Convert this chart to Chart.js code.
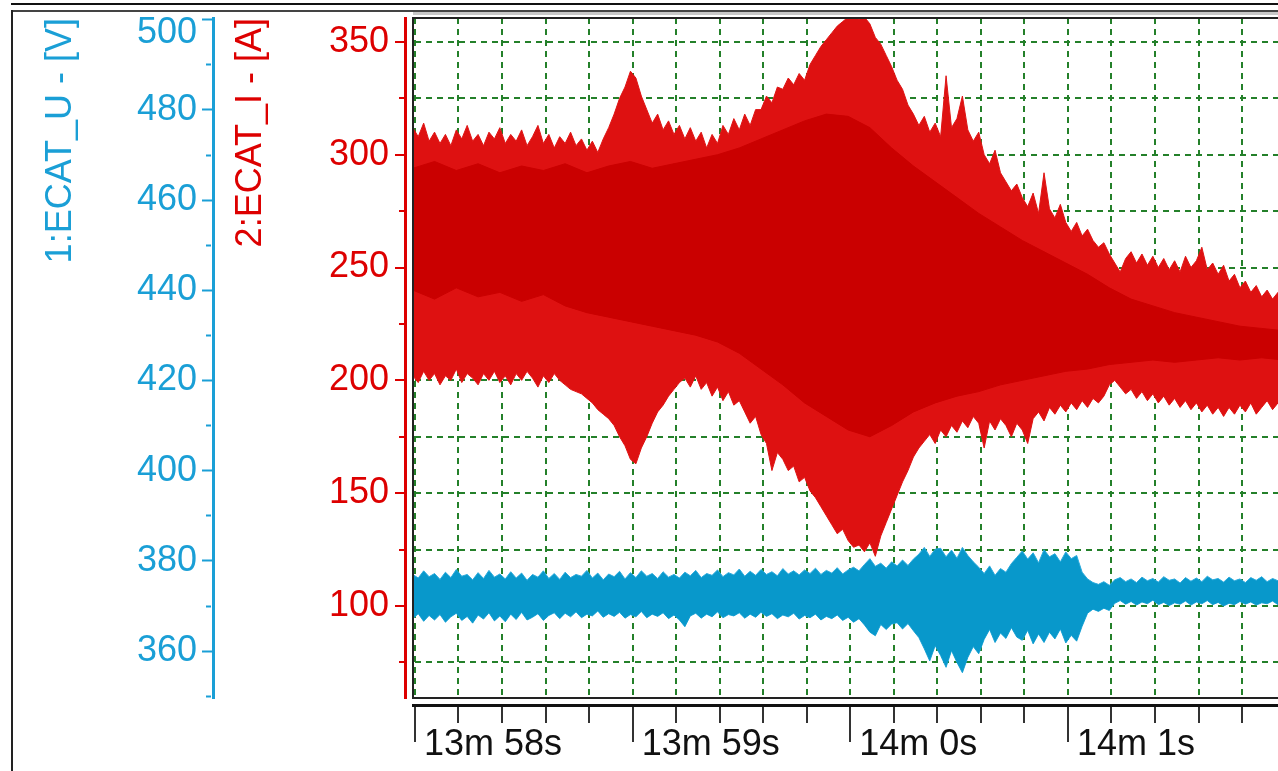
<!DOCTYPE html>
<html>
<head>
<meta charset="utf-8">
<title>ECAT U / I</title>
<script src="https://cdn.jsdelivr.net/npm/chart.js@4.4.1/dist/chart.umd.min.js"></script>
<style>
  html, body { margin: 0; padding: 0; background: #fff; overflow: hidden; }
  #wrap { width: 1278px; height: 771px; overflow: hidden; position: relative; }
  canvas { display: block; }
</style>
</head>
<body>
<div id="wrap"><canvas id="scope" width="1300" height="771"></canvas></div>
<script>
// ---- sampling grid (seconds) ----
const SAMPLE_START = 837.99;   // first envelope sample
const SAMPLE_STEP = 0.025;     // envelope bin width
const CORE_STEP = 0.1;         // bin width of the dense-core envelope

// ---- time axis ticks ----
const timeTickSeconds = [838, 839, 840, 841, 842];
const timeTickLabels = ['13m 58s', '13m 59s', '14m 0s', '14m 1s', '14m 2s'];

// ---- 2:ECAT_I [A] : max / min envelope per bin ----
const currentMax = [
  312, 308, 314, 306, 310, 305, 309, 304, 311, 307,
  313, 306, 309, 304, 310, 307, 312, 305, 309, 306,
  311, 304, 308, 313, 305, 309, 303, 308, 305, 310,
  304, 307, 302, 306, 301, 307, 312, 318, 325, 330,
  337, 334, 326, 320, 314, 318, 311, 315, 309, 313,
  307, 312, 306, 310, 303, 309, 305, 313, 309, 316,
  311, 318, 313, 320, 320, 326, 323, 330, 329, 334,
  331, 336, 333, 340, 344, 348, 351, 354, 357, 359,
  361, 361, 360, 361, 358, 352, 349, 344, 339, 333,
  329, 322, 318, 313, 317, 310, 314, 308, 335, 312,
  316, 326, 311, 306, 310, 300, 296, 302, 292, 288,
  284, 287, 281, 277, 283, 274, 292, 276, 272, 278,
  270, 266, 270, 264, 267, 262, 259, 261, 256, 252,
  248, 254, 257, 252, 256, 251, 255, 250, 254, 249,
  253, 248, 255, 250, 253, 259, 249, 252, 247, 251,
  244, 247, 241, 244, 239, 242, 237, 240, 236, 239,
  236
];
const currentMin = [
  202, 199, 204, 200, 203, 198, 202, 200, 205, 199,
  203, 201, 198, 203, 200, 204, 199, 202, 198, 203,
  200, 204, 201, 197, 202, 199, 203, 200, 198, 196,
  195, 194, 192, 190, 187, 185, 183, 180, 175, 171,
  165, 163, 170, 175, 181, 186, 189, 193, 196, 199,
  201, 197, 202, 196, 199, 193, 197, 191, 195, 189,
  191, 186, 181, 184, 176, 172, 160, 168, 165, 160,
  162, 155, 157, 151, 148, 144, 140, 136, 132, 134,
  129, 126, 127, 124, 128, 122, 131, 137, 143, 149,
  155, 160, 166, 170, 173, 176, 172, 178, 175, 180,
  177, 182, 179, 184, 181, 170, 182, 178, 183, 180,
  175, 181, 178, 172, 183, 186, 182, 188, 185, 189,
  186, 190, 187, 191, 188, 192, 190, 193, 198, 200,
  197, 194, 196, 192, 195, 191, 194, 190, 193, 189,
  192, 188, 191, 187, 190, 186, 189, 185, 188, 184,
  188, 185, 189, 186, 190, 185, 188, 191, 187, 190,
  188
];
// dense core of the current trace (where most samples fall)
const currentCoreMax = [
  294, 297, 293, 296, 292, 295, 293, 296, 292, 295,
  297, 294, 296, 298, 300, 303, 307, 311, 315, 318,
  317, 312, 303, 295, 288, 281, 274, 268, 262, 257,
  252, 247, 241, 236, 233, 230, 228, 226, 224, 223,
  222
];
const currentCoreMin = [
  240, 236, 241, 237, 239, 235, 238, 233, 230, 228,
  226, 224, 222, 220, 217, 212, 205, 198, 190, 184,
  178, 175, 180, 186, 190, 193, 195, 198, 200, 202,
  204, 205, 207, 208, 209, 208, 209, 210, 209, 210,
  209
];

// ---- 1:ECAT_U [V] : max / min envelope per bin ----
const voltageMax = [
  377.0, 376.2, 377.8, 376.5, 377.2, 375.9, 377.5, 376.3, 378.1, 376.6,
  377.0, 375.8, 377.4, 376.1, 377.9, 376.4, 377.1, 376.0, 377.6, 376.2,
  377.3, 375.7, 377.0, 376.4, 377.8, 376.1, 377.2, 375.9, 377.5, 376.3,
  377.0, 376.6, 377.9, 376.2, 377.3, 375.8, 377.1, 376.5, 377.7, 376.0,
  377.4, 376.3, 377.8, 376.6, 377.2, 376.1, 377.6, 376.4, 377.0, 376.2,
  377.5, 376.7, 377.9, 376.3, 377.2, 376.8, 378.0, 376.5, 377.4, 376.9,
  378.2, 376.6, 377.7, 376.8, 378.1, 377.0, 377.6, 376.7, 378.3, 377.1,
  377.8, 376.9, 378.0, 377.2, 378.4, 377.0, 377.9, 377.3, 378.5, 377.1,
  378.0, 378.6, 377.8, 379.2, 380.5, 378.8, 379.5, 378.4, 379.8, 378.9,
  380.2, 379.0, 380.4, 381.5, 383.0, 381.0, 382.6, 382.8, 380.9, 382.4,
  380.6, 383.0, 381.2, 379.8, 378.6, 377.2, 378.9, 376.8, 378.3, 377.5,
  379.4, 380.8, 382.2, 380.4, 381.8, 379.6, 382.5, 380.9, 381.6, 379.8,
  382.0, 380.5, 381.2, 377.5, 376.0, 375.2, 374.8, 375.4, 374.6, 375.8,
  376.3, 375.4, 376.0, 375.2, 376.4, 375.6, 376.1, 375.3, 376.5, 375.7,
  376.0, 375.1, 376.3, 375.5, 376.2, 375.4, 376.6, 375.8, 376.1, 375.3,
  376.4, 375.6, 376.0, 375.2, 376.3, 375.7, 376.5, 375.4, 376.1, 375.6,
  376.0
];
const voltageMin = [
  367.2, 368.3, 366.6, 367.9, 366.9, 368.1, 366.4, 367.6, 368.4, 366.8,
  367.7, 366.2, 368.0, 367.1, 368.5, 366.7, 367.8, 366.5, 368.2, 367.0,
  368.6, 366.9, 367.5, 368.3, 366.8, 367.9, 368.5, 367.2, 368.4, 367.6,
  368.7, 367.4, 368.2, 367.8, 368.9, 367.5, 368.3, 367.7, 368.6, 367.3,
  368.1, 367.6, 368.8, 367.4, 368.2, 367.7, 368.5, 367.2, 368.0, 366.9,
  365.4, 367.8, 368.4, 367.3, 368.2, 367.6, 368.7, 367.4, 368.1, 367.8,
  368.5, 367.3, 368.2, 367.5, 368.6, 367.7, 368.3, 367.2, 368.0, 367.6,
  368.4, 367.1, 367.9, 367.4, 368.2, 366.9, 367.7, 367.2, 368.0, 366.8,
  367.5, 366.4, 367.2, 365.8, 364.2, 363.4, 365.9, 364.8, 366.0, 366.3,
  364.9, 366.1, 364.5, 363.0, 360.5, 357.8, 361.2, 359.0, 356.4, 360.1,
  357.5, 355.2, 358.6, 361.0, 359.4, 362.6, 364.8, 361.9, 364.0, 362.8,
  365.2, 363.1, 362.4, 364.6, 361.6, 363.8, 361.9, 364.2, 362.7, 364.9,
  361.8, 363.5, 362.2, 365.5, 368.4, 369.3, 368.8, 369.5, 369.0, 370.6,
  371.2, 370.4, 371.0, 370.2, 370.9, 370.5, 371.3, 370.3, 370.8, 370.1,
  370.7, 370.4, 371.1, 370.2, 370.9, 370.5, 371.2, 370.3, 370.8, 370.0,
  370.6, 370.3, 371.0, 370.4, 370.9, 370.2, 370.7, 370.5, 371.1, 370.3,
  370.8
];

// ---- look ----
const FONT = "'Liberation Sans', Arial, sans-serif";
const U_COLOR = '#1a9fd6';
const I_COLOR = '#dd0000';
const GRID_COLOR = '#24802a';
const GRID_DASH = [6, 5];
const U_TOP_TICK = 500;   // its label sits just below the tick so it stays inside the panel

Chart.defaults.font.family = FONT;

// turn a per-bin envelope into {x, y} points on the time axis
function toPoints(values, start, step) {
  return values.map((v, i) => ({ x: start + i * step, y: v }));
}
const isWhole = (v) => Math.abs(v - Math.round(v)) < 1e-6;
const isMultiple = (v, m) => Math.abs(v / m - Math.round(v / m)) < 1e-6;

function timeLabel(v) {
  for (let i = 0; i < timeTickSeconds.length; i++) {
    if (Math.abs(v - timeTickSeconds[i]) < 1e-6) return timeTickLabels[i];
  }
  return '';
}

const band = { pointRadius: 0, tension: 0, borderWidth: 1, xAxisID: 'x' };

const datasets = [
  Object.assign({}, band, {
    label: '1:ECAT_U', yAxisID: 'yU',
    data: toPoints(voltageMax, SAMPLE_START, SAMPLE_STEP),
    borderColor: '#27a9dc', backgroundColor: '#0898cb', fill: '+1'
  }),
  Object.assign({}, band, {
    label: '1:ECAT_U min', yAxisID: 'yU',
    data: toPoints(voltageMin, SAMPLE_START, SAMPLE_STEP),
    borderColor: '#27a9dc', fill: false
  }),
  Object.assign({}, band, {
    label: '2:ECAT_I core', yAxisID: 'yI',
    data: toPoints(currentCoreMax, SAMPLE_START, CORE_STEP),
    borderColor: '#ca0000', backgroundColor: '#ca0000', fill: '+1'
  }),
  Object.assign({}, band, {
    label: '2:ECAT_I core min', yAxisID: 'yI',
    data: toPoints(currentCoreMin, SAMPLE_START, CORE_STEP),
    borderColor: '#ca0000', fill: false
  }),
  Object.assign({}, band, {
    label: '2:ECAT_I', yAxisID: 'yI',
    data: toPoints(currentMax, SAMPLE_START, SAMPLE_STEP),
    borderColor: '#e01414', backgroundColor: '#de1111', fill: '+1'
  }),
  Object.assign({}, band, {
    label: '2:ECAT_I min', yAxisID: 'yI',
    data: toPoints(currentMin, SAMPLE_START, SAMPLE_STEP),
    borderColor: '#e01414', fill: false
  })
];

// window frame and the black box around the plotting area
const framePlugin = {
  id: 'scopeFrame',
  beforeDraw(chart) {
    const ctx = chart.ctx, w = chart.width, h = chart.height;
    const left = chart.chartArea.left;
    ctx.save();
    ctx.fillStyle = '#fff';
    ctx.fillRect(0, 0, w, h);
    ctx.fillStyle = '#111';
    ctx.fillRect(11, 3, w, 2);
    ctx.fillStyle = '#444';
    ctx.fillRect(11, 10, w, 2);
    ctx.fillStyle = '#c8c8c8';
    ctx.fillRect(left, 12, w, 3);
    ctx.fillStyle = '#222';
    ctx.fillRect(11, 10, 2, h);
    ctx.restore();
  },
  afterDraw(chart) {
    const a = chart.chartArea, ctx = chart.ctx;
    ctx.save();
    ctx.strokeStyle = '#222';
    ctx.lineWidth = 2;
    ctx.strokeRect(a.left, a.top, a.right - a.left, a.bottom - a.top);
    ctx.restore();
  }
};

const spacer = (pos, weight, size) => ({
  type: 'linear', position: pos, weight: weight, display: true,
  grid: { display: false }, ticks: { display: false }, border: { display: false },
  afterFit(s) {
    if (pos === 'left') s.width = size; else s.height = size;
    s.paddingTop = s.paddingBottom = s.paddingLeft = s.paddingRight = 0;
  }
});

new Chart(document.getElementById('scope'), {
  type: 'line',
  data: { datasets },
  plugins: [framePlugin],
  options: {
    responsive: false,
    animation: false,
    devicePixelRatio: 1,
    events: [],
    layout: { padding: { left: 14, top: 18, right: 0, bottom: 0 } },
    plugins: { legend: { display: false }, tooltip: { enabled: false } },
    scales: {
      x: {
        type: 'linear', position: 'bottom', weight: 2,
        min: 837.991, max: 842.066,
        border: { display: true, color: '#111', width: 3, dash: GRID_DASH },
        grid: {
          color: GRID_COLOR, lineWidth: 2, drawOnChartArea: true, drawTicks: true,
          tickLength: 37, tickColor: '#333', tickWidth: 2,
          tickBorderDash: (c) => (c.tick && isWhole(c.tick.value)) ? [] : [16, 60]
        },
        ticks: {
          stepSize: 0.2, autoSkip: false, maxRotation: 0, minRotation: 0, includeBounds: false,
          align: 'start', labelOffset: 9, padding: -19, color: '#111',
          font: { family: FONT, size: 36 },
          callback: (v) => timeLabel(v)
        },
        afterFit(s) { s.height = 66; s.paddingLeft = 0; s.paddingRight = 0; }
      },
      xGap: spacer('bottom', 1, 7),
      yU: {
        type: 'linear', position: 'left', weight: 3,
        min: 349.6, max: 500.4,
        border: { display: true, color: U_COLOR, width: 3 },
        grid: {
          drawOnChartArea: false, drawTicks: true, tickLength: 11,
          tickColor: U_COLOR, tickWidth: 2,
          tickBorderDash: (c) => (c.tick && isMultiple(c.tick.value, 20)) ? [] : [5, 4],
          tickBorderDashOffset: (c) => (c.tick && isMultiple(c.tick.value, 20)) ? 0 : 5
        },
        ticks: {
          stepSize: 10, includeBounds: false, autoSkip: false, padding: 5, color: U_COLOR,
          font: (c) => (c.tick && c.tick.value === U_TOP_TICK)
            ? { family: FONT, size: 36, lineHeight: 0.72 }
            : { family: FONT, size: 36 },
          callback: (v) => v === U_TOP_TICK ? ['', String(v)]
            : (isMultiple(v, 20) ? String(v) : '')
        },
        title: {
          display: true, text: '1:ECAT_U - [V]', color: U_COLOR, align: 'end',
          font: { family: FONT, size: 36 }, padding: { top: 25, bottom: 0 }
        },
        afterFit(s) { s.width = 199; s.paddingTop = 0; s.paddingBottom = 0; }
      },
      yI: {
        type: 'linear', position: 'left', weight: 2,
        min: 59.2, max: 360.6,
        border: { display: true, color: I_COLOR, width: 3, dash: GRID_DASH },
        grid: {
          drawOnChartArea: true, color: GRID_COLOR, lineWidth: 2,
          drawTicks: true, tickLength: 10, tickColor: I_COLOR, tickWidth: 2,
          tickBorderDash: (c) => (c.tick && isMultiple(c.tick.value, 50)) ? [] : [5, 4],
          tickBorderDashOffset: (c) => (c.tick && isMultiple(c.tick.value, 50)) ? 0 : 5
        },
        ticks: {
          stepSize: 25, includeBounds: false, autoSkip: false, padding: 6, color: I_COLOR,
          font: { family: FONT, size: 36 },
          callback: (v) => isMultiple(v, 50) ? String(v) : ''
        },
        title: {
          display: true, text: '2:ECAT_I - [A]', color: I_COLOR, align: 'end',
          font: { family: FONT, size: 36 }, padding: { top: 16, bottom: 0 }
        },
        afterFit(s) { s.width = 192; s.paddingTop = 0; s.paddingBottom = 0; }
      },
      yGap: spacer('left', 1, 8)
    }
  }
});
</script>
</body>
</html>
